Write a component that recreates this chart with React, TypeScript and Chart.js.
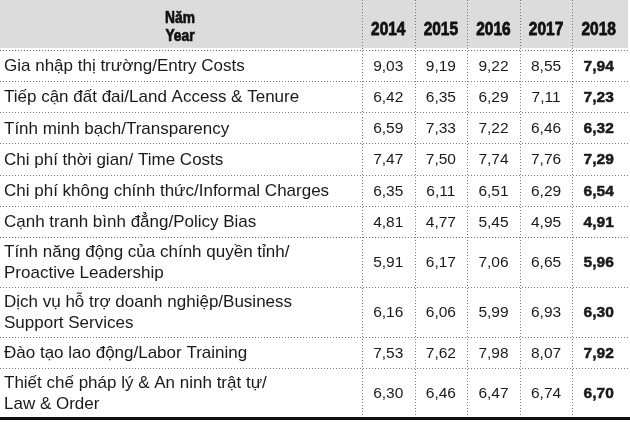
import React, { useEffect, useRef } from "react";
import { Chart, registerables } from "chart.js";

Chart.register(...registerables);

// ---------------- data ----------------
const headerTitle = ["Năm", "Year"];
const years = ["2014", "2015", "2016", "2017", "2018"];
const categories: string[][] = [
  ["Gia nhập thị trường/Entry Costs"],
  ["Tiếp cận đất đai/Land Access & Tenure"],
  ["Tính minh bạch/Transparency"],
  ["Chi phí thời gian/ Time Costs"],
  ["Chi phí không chính thức/Informal Charges"],
  ["Cạnh tranh bình đẳng/Policy Bias"],
  ["Tính năng động của chính quyền tỉnh/", "Proactive Leadership"],
  ["Dịch vụ hỗ trợ doanh nghiệp/Business", "Support Services"],
  ["Đào tạo lao động/Labor Training"],
  ["Thiết chế pháp lý & An ninh trật tự/", "Law & Order"],
];
const values2014 = [9.03, 6.42, 6.59, 7.47, 6.35, 4.81, 5.91, 6.16, 7.53, 6.3];
const values2015 = [9.19, 6.35, 7.33, 7.5, 6.11, 4.77, 6.17, 6.06, 7.62, 6.46];
const values2016 = [9.22, 6.29, 7.22, 7.74, 6.51, 5.45, 7.06, 5.99, 7.98, 6.47];
const values2017 = [8.55, 7.11, 6.46, 7.76, 6.29, 4.95, 6.65, 6.93, 8.07, 6.74];
const values2018 = [7.94, 7.23, 6.32, 7.29, 6.54, 4.91, 5.96, 6.3, 7.92, 6.7];
const seriesValues = [values2014, values2015, values2016, values2017, values2018];
const highlightYear = "2018";

// ---------------- layout (units of the scales) ----------------
const LABEL_COL_UNITS = 6.88; // label column width, in year-column widths
const RIGHT_PAD_UNITS = 0.095;
const HEADER_UNITS = 1.6; // header height, in single-row heights
const LINE_UNITS = [1, 1.6]; // row height for 1 / 2 text lines
const BOTTOM_PAD_UNITS = 0.13;

const rowHeights = categories.map((c) => LINE_UNITS[c.length - 1]);
const rowTops: number[] = [];
{
  let acc = HEADER_UNITS;
  rowHeights.forEach((h) => {
    rowTops.push(acc);
    acc += h;
  });
}
const tableBottom = HEADER_UNITS + rowHeights.reduce((a, b) => a + b, 0);
const rowCenters = rowTops.map((t, i) => t + rowHeights[i] / 2);

const fmt = (v: number) => v.toFixed(2).replace(".", ",");

const TEXT = "#1a1a1a";
const LABEL_FONT = "'Liberation Sans', Arial, sans-serif";

function heavyText(ctx: CanvasRenderingContext2D, s: string, x: number, y: number, sx: number, stroke: number) {
  ctx.save();
  ctx.translate(x, y);
  ctx.scale(sx, 1);
  ctx.fillText(s, 0, 0);
  if (stroke > 0) {
    ctx.lineWidth = stroke;
    ctx.strokeStyle = ctx.fillStyle as string;
    ctx.lineJoin = "round";
    ctx.strokeText(s, 0, 0);
  }
  ctx.restore();
}

const tablePlugin = {
  id: "tablePlugin",
  beforeDatasetsDraw(chart: any) {
    const { ctx, scales, chartArea } = chart;
    const xs = scales.x;
    const ys = scales.y;
    const left = chartArea.left;
    const right = chartArea.right;
    const top = ys.getPixelForValue(0);
    const headerBottom = ys.getPixelForValue(HEADER_UNITS);
    const bottom = ys.getPixelForValue(tableBottom);

    ctx.save();
    // header band
    ctx.fillStyle = "#dcdcdc";
    ctx.fillRect(left, top, right - left - 2, headerBottom - top - 2);

    // dotted lines
    ctx.strokeStyle = "#7a7a7a";
    ctx.lineWidth = 1;
    ctx.setLineDash([1, 2]);
    const hLines = [HEADER_UNITS, ...rowTops.slice(1)];
    hLines.forEach((u) => {
      const y = Math.round(ys.getPixelForValue(u)) + 0.5;
      ctx.beginPath();
      ctx.moveTo(left, y);
      ctx.lineTo(right, y);
      ctx.stroke();
    });
    years.forEach((_, i) => {
      const x = Math.round(xs.getPixelForValue(i)) + 0.5;
      ctx.beginPath();
      ctx.moveTo(x, top);
      ctx.lineTo(x, bottom);
      ctx.stroke();
    });
    ctx.setLineDash([]);

    // bottom rule
    ctx.fillStyle = "#111";
    ctx.fillRect(left, Math.round(bottom) - 1, right - left, 3);

    // header text
    ctx.fillStyle = "#111111";
    ctx.textAlign = "center";
    ctx.textBaseline = "alphabetic";
    ctx.font = `bold 16px ${LABEL_FONT}`;
    const labelCenter = xs.getPixelForValue(-LABEL_COL_UNITS / 2);
    const hMid = (top + headerBottom) / 2;
    heavyText(ctx, headerTitle[0], labelCenter - 1, hMid - 2, 0.86, 0.7);
    heavyText(ctx, headerTitle[1], labelCenter - 1, hMid + 16, 0.86, 0.7);
    ctx.font = `bold 18px ${LABEL_FONT}`;
    years.forEach((yr, i) => {
      heavyText(ctx, yr, xs.getPixelForValue(i + 0.5), hMid + 10, 0.86, 0.8);
    });

    // row labels
    ctx.fillStyle = TEXT;
    ctx.textAlign = "left";
    ctx.textBaseline = "middle";
    ctx.font = `17px ${LABEL_FONT}`;
    const lx = xs.getPixelForValue(-LABEL_COL_UNITS) + 4;
    categories.forEach((lines, j) => {
      const cy = ys.getPixelForValue(rowCenters[j]);
      const lh = 21;
      const start = cy - ((lines.length - 1) * lh) / 2;
      lines.forEach((ln, k) => ctx.fillText(ln, lx, start + k * lh + 1));
    });
    ctx.restore();
  },
  afterDatasetsDraw(chart: any) {
    const { ctx } = chart;
    ctx.save();
    ctx.fillStyle = TEXT;
    ctx.textAlign = "center";
    ctx.textBaseline = "middle";
    chart.data.datasets.forEach((ds: any, di: number) => {
      const meta = chart.getDatasetMeta(di);
      const hl = ds.label === highlightYear;
      ctx.font = `${hl ? "bold " : ""}15.5px ${LABEL_FONT}`;
      meta.data.forEach((el: any, k: number) => {
        heavyText(ctx, fmt(ds.data[k].v), el.x, el.y + 1, 1, hl ? 0.5 : 0);
      });
    });
    ctx.restore();
  },
};

export default function App() {
  const ref = useRef<HTMLCanvasElement | null>(null);
  useEffect(() => {
    if (!ref.current) return;
    const chart = new Chart(ref.current, {
      type: "scatter",
      data: {
        datasets: years.map((yr, i) => ({
          label: yr,
          data: seriesValues[i].map((v, j) => ({ x: i + 0.5, y: rowCenters[j], v })),
          pointRadius: 0,
          pointHoverRadius: 0,
          showLine: false,
        })),
      },
      options: {
        responsive: false,
        animation: false,
        devicePixelRatio: 1,
        layout: { padding: 0 },
        events: [],
        plugins: { legend: { display: false }, tooltip: { enabled: false } },
        scales: {
          x: {
            type: "linear",
            display: false,
            min: -LABEL_COL_UNITS,
            max: years.length + RIGHT_PAD_UNITS,
          },
          y: {
            type: "linear",
            display: false,
            reverse: true,
            min: 0,
            max: tableBottom + BOTTOM_PAD_UNITS,
          },
        },
      },
      plugins: [tablePlugin],
    } as any);
    return () => chart.destroy();
  }, []);
  return (
    <div style={{ position: "fixed", left: 0, top: 0, width: 630, height: 422, background: "#fff" }}>
      <canvas ref={ref} width={630} height={422} style={{ display: "block" }} />
    </div>
  );
}
